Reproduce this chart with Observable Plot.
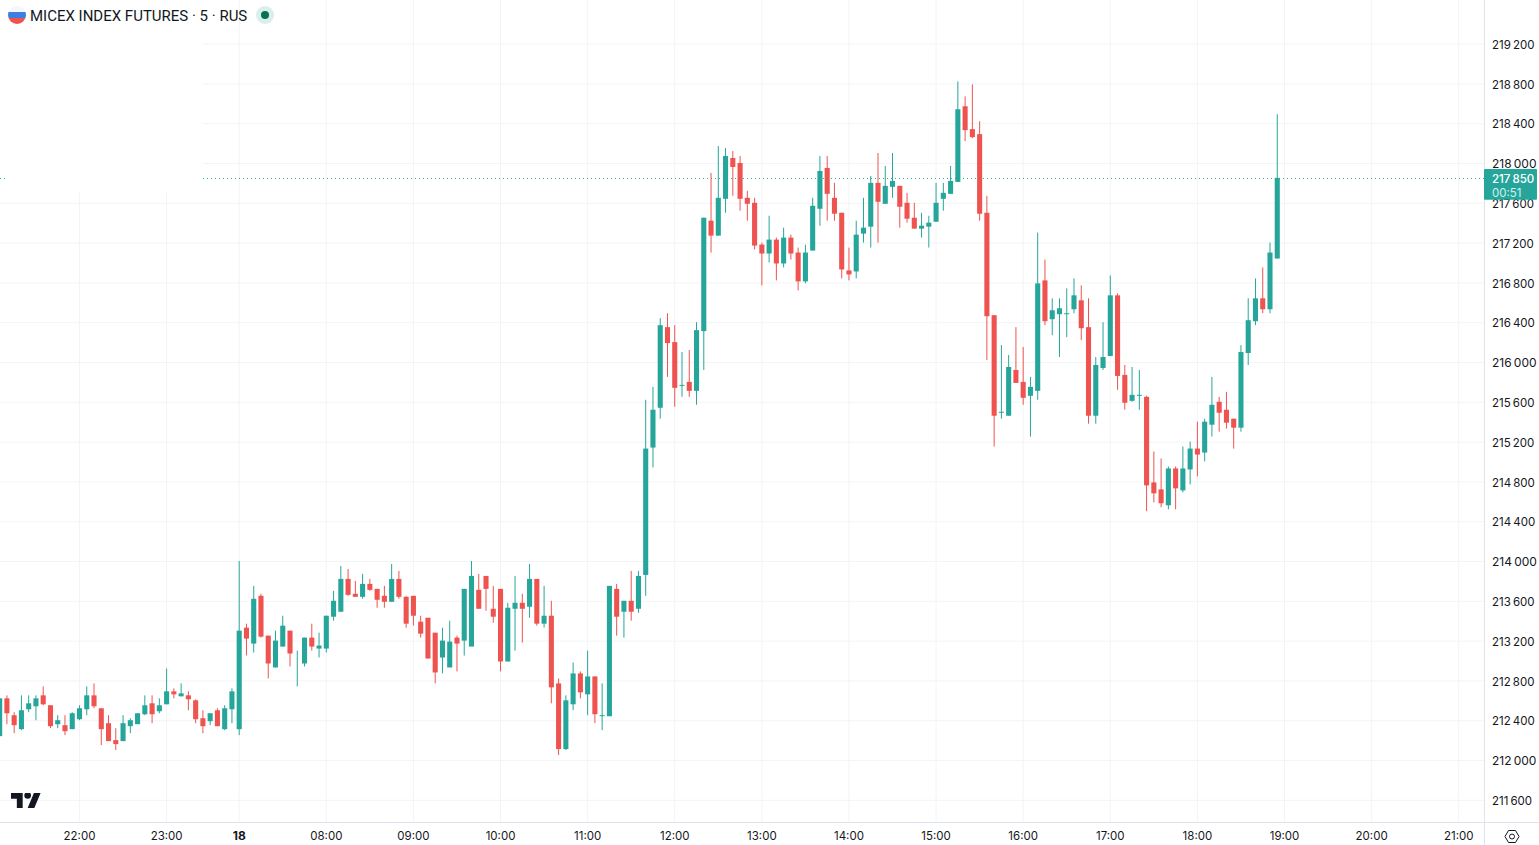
<!DOCTYPE html>
<html>
<head>
<meta charset="utf-8">
<title>MICEX INDEX FUTURES</title>
<script src="https://cdn.jsdelivr.net/npm/d3@7"></script>
<script src="https://cdn.jsdelivr.net/npm/@observablehq/plot@0.6"></script>
<style>
html,body{margin:0;padding:0;background:#fff;overflow:hidden}
#wrap{position:relative;width:1539px;height:845px;font-family:Roboto,sans-serif;color:#131722}
#wrap svg.plot{display:block;max-width:none}
#legend{position:absolute;left:30px;top:6.5px;font-size:15px;line-height:19px;white-space:nowrap}
.ov{position:absolute;display:block}
</style>
</head>
<body>
<div id="wrap">
  <div id="chart"></div>
  <svg class="ov" style="left:8px;top:6px" width="18" height="18" viewBox="0 0 18 18">
    <defs><clipPath id="c"><circle cx="9" cy="9" r="9"/></clipPath></defs>
    <g clip-path="url(#c)"><rect width="18" height="6" fill="#f4f6f9"/><rect y="6" width="18" height="6" fill="#3d7fe0"/><rect y="12" width="18" height="6" fill="#ef5350"/></g>
  </svg>
  <div id="legend">MICEX INDEX FUTURES · 5 · RUS</div>
  <svg class="ov" style="left:256px;top:6px" width="18" height="18" viewBox="0 0 18 18">
    <circle cx="9" cy="9" r="9" fill="#d8efea"/><circle cx="9" cy="9" r="4" fill="#0b6e55"/>
  </svg>
  <svg class="ov" style="left:11px;top:793px" width="30" height="15" viewBox="0 4 36 18">
    <path fill="#131722" d="M14 22H7V11H0V4h14v18ZM28 22h-8l7.5-18h8L28 22Z"/><circle cx="20" cy="7" r="4" fill="#131722"/>
  </svg>
  <svg class="ov" style="left:1504px;top:829px" width="16" height="15" viewBox="0 0 16 15" fill="none" stroke="#131722" stroke-width="1">
    <path d="M1 7.5 4.5 1.5h7L15 7.5l-3.5 6h-7Z"/><circle cx="8" cy="7.5" r="2.5"/>
  </svg>
</div>
<script>
const opens = [
212240,212620,212450,212310,212510,212540,212650,212550,212360,212350,212310,
212410,212510,212650,212520,212370,212200,212190,212340,212360,212460,212570,212490,
212560,212690,212640,212650,212600,212420,212390,212500,212310,212510,
212310,213330,213170,213650,213250,212930,213140,213300,212970,212970,213230,213120,
213120,213440,213490,213820,213670,213640,213770,213720,213650,213590,213820,213640,
213650,213390,213430,213280,213030,212930,213230,213200,213140,213710,213850,213520,
213720,212990,213520,213580,213540,213820,213370,213450,212770,212110,212560,212870,
212660,212840,212440,212440,213720,213490,213600,213520,213860,215140,215540,216350,
216200,215760,215800,215710,216310,217420,217270,217640,218050,218000,217650,217600,
217180,217090,217230,216990,217250,217100,216810,217120,217540,217950,217650,217500,
216920,216910,217290,217360,217800,217590,217760,217770,217600,217450,217340,217360,
217410,217640,217690,217810,218570,218340,218290,217500,216470,215490,215460,215920,
215800,215660,215710,216820,216430,216480,216480,216530,216620,216350,215460,215940,
216060,216670,215870,215610,215660,215650,214790,214720,214560,214930,214710,214920,
215130,215090,215370,215600,215520,215430,215340,216090,216410,216640,216530,217040
];
const highs = [
212620,212650,212480,212650,212650,212650,212740,212550,212450,212450,212480,
212550,212740,212770,212520,212450,212320,212450,212420,212470,212650,212650,212620,
212920,212720,212770,212690,212610,212500,212470,212520,212550,212720,
214000,213370,213750,213670,213250,213300,213450,213300,213100,213230,213370,213280,
213450,213700,213950,213920,213800,213870,213820,213720,213750,213970,213900,213650,
213650,213450,213330,213080,213330,213400,213250,213720,214000,213870,213770,213750,
213500,213580,213850,213670,213970,213820,213750,213600,212820,212650,212980,212890,
213100,212840,212770,213750,213770,213600,213900,213900,215620,215750,216440,216490,
216370,216100,216120,216400,217450,217900,218170,218150,218120,218070,217720,217650,
217200,217470,217250,217350,217280,217150,217180,217650,218070,218070,217800,217500,
217150,217420,217650,217870,218100,217970,218100,217770,217700,217600,217500,217470,
217800,217800,217970,218820,218670,218790,218420,217670,216470,216170,216070,216350,
216150,215850,217300,217030,216640,216640,216740,216840,216770,216640,216050,216400,
216870,216690,215970,215950,215920,215660,215100,215030,214950,214950,215150,215200,
215400,215430,215850,215650,215700,215430,216170,216640,216840,216950,217200,218490
];
const lows = [
212240,212360,212270,212300,212480,212400,212550,212320,212320,212250,212310,
212400,212450,212520,212150,212190,212100,212190,212270,212360,212450,212370,212470,
212560,212620,212640,212500,212370,212270,212350,212340,212300,212370,
212250,213050,213080,213230,212820,212930,213140,212940,212740,212940,213100,213030,
213080,213400,213490,213650,213640,213620,213700,213530,213530,213590,213620,213330,
213350,213230,213020,212770,212870,213150,212890,213050,213450,213520,213500,213380,
212890,212990,213100,213180,213430,213350,213330,212570,212050,212100,212500,212620,
212450,212370,212300,212440,213250,213230,213400,213480,213650,214940,215430,215850,
215550,215650,215650,215570,215920,217100,217270,217500,217670,217520,217420,217130,
216770,217000,216820,216950,217030,216720,216790,217120,217370,217420,217420,216840,
216820,216840,217200,217150,217200,217590,217650,217350,217400,217340,217250,217150,
217410,217520,217690,217810,218220,218250,217420,216020,215150,215430,215460,215790,
215570,215250,215620,216370,216270,216050,216250,216490,216220,215380,215380,215920,
216060,215720,215520,215600,215520,214500,214590,214540,214520,214520,214690,214770,
214850,215000,215250,215300,215330,215130,215300,215970,216370,216490,216490,217040
];
const closes = [
212620,212470,212350,212500,212570,212620,212560,212340,212400,212290,212470,
212520,212650,212540,212310,212190,212160,212370,212400,212470,212550,212460,212550,
212690,212660,212670,212610,212410,212340,212470,212340,212520,212690,
213300,213220,213620,213240,212970,213200,213350,213070,212970,213230,213140,213150,
213450,213600,213820,213660,213640,213770,213710,213610,213590,213820,213640,213370,
213450,213270,213020,212880,213200,213190,213170,213720,213850,213520,213720,213440,
212990,213530,213580,213520,213820,213370,213450,212730,212110,212600,212870,212680,
212840,212460,212450,213750,213440,213600,213490,213850,215130,215520,216370,216190,
215740,215770,215710,216320,217450,217270,217650,218070,217960,217640,217590,217170,
217090,217230,216990,217250,217090,216810,217100,217570,217920,217690,217490,216930,
216880,217280,217350,217800,217610,217770,217820,217560,217440,217340,217370,217400,
217600,217700,217820,218540,218330,218260,217490,216460,215460,215500,215950,215790,
215640,215750,216790,216410,216520,216540,216490,216670,216340,215460,215970,216050,
216670,215860,215590,215670,215670,214760,214680,214580,214930,214730,214930,215130,
215070,215400,215570,215490,215390,215340,216100,216420,216640,216530,217100,217850
];
const hourIndex = [0,12,22,34,46,58,70,82,94,106,118,130,142,154,166,178,190];
const hourLabels = ["22:00","23:00","18","08:00","09:00","10:00","11:00","12:00","13:00","14:00","15:00","16:00","17:00","18:00","19:00","20:00","21:00"];
const priceTicks = [211600,212000,212400,212800,213200,213600,214000,214400,214800,215200,215600,216000,216400,216800,217200,217600,218000,218400,218800,219200];
const boldPrices = [212000,214000,216000,218000];
const lastPrice = 217850;
const countdown = "00:51";

const firstIndex = -11;
const UP = "#26a69a", DOWN = "#ef5350", GRID = "#f3f4f6", BORDER = "#e0e3eb", INK = "#131722";
const bars = opens.map((o, k) => ({i: k + firstIndex, open: o, high: highs[k], low: lows[k], close: closes[k]}));
const hours = hourIndex.map((i, k) => ({i, label: hourLabels[k]}));
const fmt = d => String(d).replace(/(\d{3})$/, "\u2009$1");
const col = d => d.close >= d.open ? UP : DOWN;

const xDomain = [-10.883, 193.55], yDomain = [211377, 219638];
const legendEdgeX = 17.08, legendEdgeY = 217700; // the faded corner behind the legend
const rightEdgeX = 201.1, pageBottomY = 211146;
const font = "Inter, Roboto, sans-serif";

const chart = Plot.plot({
  width: 1539, height: 845,
  marginLeft: 0, marginRight: 55, marginTop: 0, marginBottom: 23,
  x: {domain: xDomain, axis: null},
  y: {domain: yDomain, axis: null},
  style: {background: "#fff", fontFamily: font},
  marks: [
    Plot.ruleY(priceTicks, {x1: d => d > legendEdgeY ? legendEdgeX : xDomain[0], x2: xDomain[1], y: d => d, stroke: GRID}),
    Plot.ruleX(hourIndex, {x: d => d, y1: yDomain[0], y2: d => d < legendEdgeX ? legendEdgeY : yDomain[1], stroke: GRID}),
    Plot.ruleX(bars, {x: "i", y1: "low", y2: "high", stroke: col, strokeWidth: 1}),
    Plot.rect(bars, {x1: d => d.i - 0.35, x2: d => d.i + 0.35, y1: "open", y2: "close", fill: col, dx: 0.5}),
    Plot.ruleY([lastPrice], {x1: legendEdgeX, x2: xDomain[1], stroke: UP, strokeDasharray: "1,3"}),
    Plot.ruleY([lastPrice], {x1: xDomain[0], x2: -10.2, stroke: UP, strokeDasharray: "1,3"}),
    Plot.ruleX([xDomain[1]], {y1: pageBottomY, y2: yDomain[1], stroke: BORDER}),
    Plot.ruleY([yDomain[0]], {x1: xDomain[0], x2: rightEdgeX + 1, stroke: BORDER}),
    Plot.text(priceTicks.filter(d => !boldPrices.includes(d)), {x: xDomain[1], y: d => d, text: fmt, textAnchor: "start", dx: 7.5, dy: 1, fontSize: 11.5, fill: INK}),
    Plot.text(boldPrices, {x: xDomain[1], y: d => d, text: fmt, textAnchor: "start", dx: 7.5, dy: 1, fontSize: 12, fill: INK}),
    Plot.text(hours.filter(d => d.label !== "18"), {x: "i", text: "label", frameAnchor: "bottom", dy: 17, fontSize: 11.5, fill: INK}),
    Plot.text(hours.filter(d => d.label === "18"), {x: "i", text: "label", frameAnchor: "bottom", dy: 17, fontSize: 12, fontWeight: 700, fill: INK}),
    Plot.rect([lastPrice], {x1: xDomain[1], x2: 200.85, y1: d => d + 90, y2: d => d - 220, fill: UP, rx: 1}),
    Plot.text([lastPrice], {x: xDomain[1], y: d => d, text: fmt, textAnchor: "start", dx: 7.5, dy: 1, fontSize: 11.5, fontWeight: 500, fill: "#fff"}),
    Plot.text([lastPrice], {x: xDomain[1], y: d => d - 140, text: () => countdown, textAnchor: "start", dx: 7.5, dy: 1, fontSize: 11.5, fill: "#d5f0ec"})
  ]
});
document.getElementById("chart").append(chart);
</script>
</body>
</html>
